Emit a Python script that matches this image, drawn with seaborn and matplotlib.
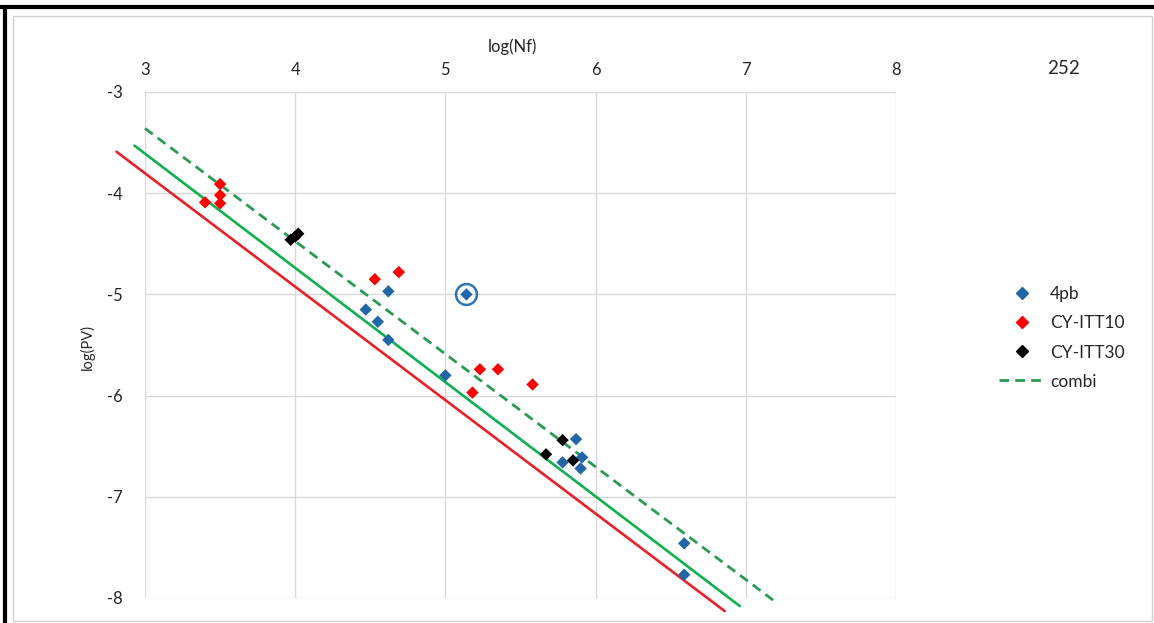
import numpy as np
import pandas as pd
import seaborn as sns
import matplotlib.pyplot as plt
from matplotlib.lines import Line2D
from matplotlib.patches import Rectangle

pb4_x = [4.62, 4.47, 4.55, 4.62, 5.00, 5.87, 5.78, 5.91, 5.90, 6.59, 6.59, 5.14]
pb4_y = [-4.97, -5.15, -5.27, -5.45, -5.80, -6.43, -6.66, -6.61, -6.72, -7.46, -7.77, -5.00]
itt10_x = [3.50, 3.50, 3.50, 3.40, 4.53, 4.69, 5.23, 5.35, 5.58, 5.18]
itt10_y = [-3.91, -4.02, -4.10, -4.09, -4.85, -4.78, -5.74, -5.74, -5.89, -5.97]
itt30_x = [3.97, 4.00, 4.02, 5.78, 5.67, 5.85]
itt30_y = [-4.46, -4.43, -4.40, -6.44, -6.58, -6.64]

# outlier marked with a ring
ring_x = [5.14]
ring_y = [-5.00]

# fitted lines (end points)
red_x = [2.81, 6.86]
red_y = [-3.59, -8.13]
green_x = [2.93, 6.96]
green_y = [-3.53, -8.08]
combi_x = [3.00, 7.19]
combi_y = [-3.36, -8.03]

x_ticks = [3, 4, 5, 6, 7, 8]
y_ticks = [-3, -4, -5, -6, -7, -8]

df = pd.DataFrame({
    'x': pb4_x + itt10_x + itt30_x,
    'y': pb4_y + itt10_y + itt30_y,
    'serie': ['4pb'] * len(pb4_x) + ['CY-ITT10'] * len(itt10_x) + ['CY-ITT30'] * len(itt30_x),
})
colors = {'4pb': '#2166a6', 'CY-ITT10': '#ff0000', 'CY-ITT30': '#000000'}
txt = '#262626'

sns.set_style('white')
plt.rcParams['font.family'] = ['Lato', 'DejaVu Sans']
plt.rcParams['axes.unicode_minus'] = False

fig = plt.figure(figsize=(11.54, 6.23), dpi=100)
ax = fig.add_axes([145 / 1154, 1 - 598 / 623, (896 - 145) / 1154, (598 - 92) / 623])

ax.plot(red_x, red_y, color='#e8202a', lw=1.9, clip_on=False, zorder=2)
ax.plot(green_x, green_y, color='#10b050', lw=1.9, clip_on=False, zorder=2)
ax.plot(combi_x, combi_y, color='#2a9a55', lw=2.0, ls=(0, (3.5, 2.2)), clip_on=False, zorder=2)

sns.scatterplot(data=df, x='x', y='y', hue='serie', palette=colors, marker='D',
                s=40, linewidth=0, legend=False, ax=ax, zorder=3)
ax.plot(ring_x, ring_y, marker='o', ms=15, mfc='none', mec='#2e75b6', mew=1.8,
        ls='none', zorder=3)

ax.set_xlim(3, 8)
ax.set_ylim(-8, -3)
ax.set_xticks(x_ticks)
ax.set_yticks(y_ticks)
ax.xaxis.tick_top()
ax.xaxis.set_label_position('top')
ax.tick_params(axis='x', length=0, pad=10, labelsize=12, labelcolor=txt)
ax.tick_params(axis='y', length=0, pad=16, labelsize=12, labelcolor=txt)
ax.grid(True, color='#d9d9d9', lw=1)
for s in ax.spines.values():
    s.set_visible(False)
ax.set_xlabel('log(Nf)', fontsize=12, color=txt)
ax.set_ylabel('log(PV)', fontsize=10.5, color=txt)
ax.xaxis.set_label_coords((512 - 145) / 751, (598 - 47) / 506)
ax.yaxis.set_label_coords((87 - 145) / 751, (598 - 347) / 506)
ax.xaxis.label.set_va('center')
ax.yaxis.label.set_va('center')

fig.text(1063 / 1154, 1 - 68 / 623, '252', fontsize=13.5, color=txt,
         ha='center', va='center')

handles = [
    Line2D([], [], marker='D', color=colors['4pb'], ls='none', ms=6),
    Line2D([], [], marker='D', color=colors['CY-ITT10'], ls='none', ms=6),
    Line2D([], [], marker='D', color=colors['CY-ITT30'], ls='none', ms=6),
    Line2D([], [], color='#2a9a55', lw=2, ls=(0, (3.5, 2.2))),
]
fig.legend(handles, ['4pb', 'CY-ITT10', 'CY-ITT30', 'combi'], loc='center left',
           bbox_to_anchor=(983 / 1154, 1 - 338 / 623), frameon=False,
           fontsize=12.5, handlelength=2.75, labelspacing=0.75, handletextpad=0.2,
           labelcolor=txt)

# frame of the screenshot
fig.add_artist(Rectangle((13 / 1154, 1 - 621 / 623), (1152 - 13) / 1154, (621 - 16) / 623,
                         transform=fig.transFigure, fill=False, ec='#d0d0d0', lw=1))
fig.add_artist(Line2D([0, 1], [1 - 7 / 623, 1 - 7 / 623], transform=fig.transFigure,
                      color='black', lw=3))
fig.add_artist(Line2D([5 / 1154, 5 / 1154], [0, 1 - 7 / 623], transform=fig.transFigure,
                      color='black', lw=3))

fig.savefig('out.png', dpi=100)
